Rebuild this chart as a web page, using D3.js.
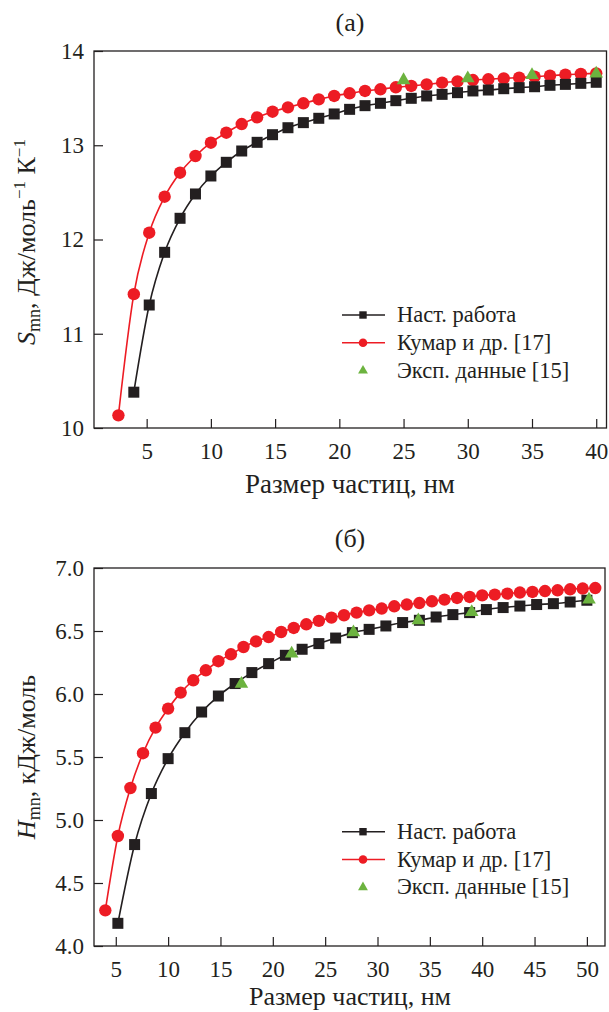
<!DOCTYPE html>
<html>
<head>
<meta charset="utf-8">
<script src="https://cdn.jsdelivr.net/npm/d3@7/dist/d3.min.js"></script>
<style>
  html, body { margin: 0; padding: 0; background: #fff; }
  svg { display: block; }
</style>
</head>
<body>
<svg id="chart" width="609" height="1012" font-family="Liberation Serif"></svg>
<script>
// ---------- Data: panel (a) entropy S_mn ----------
const sizeA_black = [4, 5.2, 6.4, 7.6, 8.8, 10, 11.2, 12.4, 13.6, 14.8, 16, 17.2, 18.4, 19.6, 20.8, 22, 23.2, 24.4, 25.6, 26.8, 28, 29.2, 30.4, 31.6, 32.8, 34, 35.2, 36.4, 37.6, 38.8, 40];
const sA_black = [10.38, 11.305, 11.864, 12.225, 12.483, 12.674, 12.819, 12.939, 13.031, 13.112, 13.186, 13.24, 13.286, 13.332, 13.381, 13.42, 13.445, 13.473, 13.498, 13.523, 13.54, 13.558, 13.576, 13.586, 13.6, 13.611, 13.621, 13.636, 13.646, 13.657, 13.668];
const sizeA_red = [2.8, 4, 5.2, 6.4, 7.6, 8.8, 10, 11.2, 12.4, 13.6, 14.8, 16, 17.2, 18.4, 19.6, 20.8, 22, 23.2, 24.4, 25.6, 26.8, 28, 29.2, 30.4, 31.6, 32.8, 34, 35.2, 36.4, 37.6, 38.8, 40];
const sA_red = [10.134, 11.42, 12.072, 12.454, 12.709, 12.886, 13.027, 13.133, 13.225, 13.296, 13.356, 13.402, 13.445, 13.487, 13.523, 13.551, 13.576, 13.594, 13.615, 13.629, 13.646, 13.664, 13.678, 13.692, 13.7, 13.71, 13.717, 13.727, 13.738, 13.749, 13.756, 13.763];
const sizeA_exp = [25, 30, 35, 40];
const sA_exp = [13.69, 13.71, 13.745, 13.76];
const ticksA_x = [5, 10, 15, 20, 25, 30, 35, 40];
const ticksA_y = [10, 11, 12, 13, 14];

// ---------- Data: panel (б) enthalpy H_mn ----------
const sizeB_black = [5.2, 6.8, 8.4, 10, 11.6, 13.2, 14.8, 16.4, 18, 19.6, 21.2, 22.8, 24.4, 26, 27.6, 29.2, 30.8, 32.4, 34, 35.6, 37.2, 38.8, 40.4, 42, 43.6, 45.2, 46.8, 48.4, 50];
const hB_black = [4.18, 4.805, 5.21, 5.487, 5.693, 5.857, 5.984, 6.083, 6.17, 6.241, 6.307, 6.355, 6.4, 6.444, 6.487, 6.513, 6.54, 6.567, 6.585, 6.611, 6.63, 6.646, 6.67, 6.686, 6.698, 6.71, 6.717, 6.73, 6.744];
const sizeB_red = [4, 5.2, 6.4, 7.6, 8.8, 10, 11.2, 12.4, 13.6, 14.8, 16, 17.2, 18.4, 19.6, 20.8, 22, 23.2, 24.4, 25.6, 26.8, 28, 29.2, 30.4, 31.6, 32.8, 34, 35.2, 36.4, 37.6, 38.8, 40, 41.2, 42.4, 43.6, 44.8, 46, 47.2, 48.4, 49.6, 50.8];
const hB_red = [4.283, 4.873, 5.254, 5.53, 5.733, 5.884, 6.011, 6.109, 6.188, 6.26, 6.315, 6.373, 6.418, 6.452, 6.492, 6.524, 6.553, 6.58, 6.606, 6.625, 6.646, 6.664, 6.678, 6.696, 6.71, 6.722, 6.736, 6.749, 6.762, 6.77, 6.783, 6.789, 6.797, 6.805, 6.81, 6.817, 6.823, 6.831, 6.837, 6.841];
const sizeB_exp = [17, 21.8, 27.7, 33.9, 39, 50.2];
const hB_exp = [6.08, 6.32, 6.49, 6.585, 6.65, 6.75];
const ticksB_x = [5, 10, 15, 20, 25, 30, 35, 40, 45, 50];
const ticksB_y = [4.0, 4.5, 5.0, 5.5, 6.0, 6.5, 7.0];

const legendLabels = ["Наст. работа", "Кумар и др. [17]", "Эксп. данные [15]"];
const COL_BLACK = "#231f20", COL_RED = "#ed1c24", COL_GREEN = "#6cb33f";
const FONT = "'Liberation Serif', 'Times New Roman', serif";

const svg = d3.select("#chart");

function styleText(sel, size) {
  return sel.style("font-family", FONT).style("font-size", size + "px").style("fill", COL_BLACK);
}

function panel(cfg) {
  const g = svg.append("g");
  const x = d3.scaleLinear().domain(cfg.xDomain).range([cfg.left, cfg.right]);
  const y = d3.scaleLinear().domain(cfg.yDomain).range([cfg.bottom, cfg.top]);

  // frame
  g.append("rect").attr("x", cfg.left).attr("y", cfg.top)
    .attr("width", cfg.right - cfg.left).attr("height", cfg.bottom - cfg.top)
    .attr("fill", "none").attr("stroke", COL_BLACK).attr("stroke-width", 1.3);

  // axes (inward ticks)
  const xAxis = d3.axisBottom(x).tickValues(cfg.xTicks).tickSizeInner(-9).tickSizeOuter(0).tickPadding(15)
    .tickFormat(d3.format("d"));
  const gx = g.append("g").attr("transform", `translate(0,${cfg.bottom})`).call(xAxis);
  gx.attr("font-family", null).attr("font-size", null);
  gx.select(".domain").remove();
  gx.selectAll("line").attr("stroke", COL_BLACK).attr("stroke-width", 1.2);
  styleText(gx.selectAll("text"), 23);

  const yAxis = d3.axisLeft(y).tickValues(cfg.yTicks).tickSizeInner(-9).tickSizeOuter(0).tickPadding(10)
    .tickFormat(cfg.yFormat);
  const gy = g.append("g").attr("transform", `translate(${cfg.left},0)`).call(yAxis);
  gy.attr("font-family", null).attr("font-size", null);
  gy.select(".domain").remove();
  gy.selectAll("line").attr("stroke", COL_BLACK).attr("stroke-width", 1.2);
  styleText(gy.selectAll("text"), 23);

  // lines
  const line = d3.line().x(d => x(d[0])).y(d => y(d[1])).curve(d3.curveMonotoneX);
  const black = d3.zip(cfg.bx, cfg.by);
  const red = d3.zip(cfg.rx, cfg.ry);
  const exp = d3.zip(cfg.ex, cfg.ey);

  g.append("path").datum(red).attr("d", line).attr("fill", "none").attr("stroke", COL_RED).attr("stroke-width", 1.6);
  g.append("path").datum(black).attr("d", line).attr("fill", "none").attr("stroke", COL_BLACK).attr("stroke-width", 1.6);

  g.selectAll(".rc").data(red).join("circle")
    .attr("cx", d => x(d[0])).attr("cy", d => y(d[1])).attr("r", 6.2).attr("fill", COL_RED);
  g.selectAll(".bs").data(black).join("rect")
    .attr("x", d => x(d[0]) - 5.5).attr("y", d => y(d[1]) - 5.5).attr("width", 11).attr("height", 11).attr("fill", COL_BLACK);
  const tri = d3.symbol().type(d3.symbolTriangle).size(80);
  g.selectAll(".gt").data(exp).join("path")
    .attr("d", tri).attr("transform", d => `translate(${x(d[0])},${y(d[1])})`).attr("fill", COL_GREEN);

  // legend
  const lg = g.append("g");
  const rows = [cfg.legY, cfg.legY + 27.8, cfg.legY + 55.6];
  lg.append("line").attr("x1", 342).attr("x2", 385).attr("y1", rows[0]).attr("y2", rows[0]).attr("stroke", COL_BLACK).attr("stroke-width", 1.6);
  lg.append("rect").attr("x", 363 - 3.7).attr("y", rows[0] - 3.7).attr("width", 7.4).attr("height", 7.4).attr("fill", COL_BLACK);
  lg.append("line").attr("x1", 342).attr("x2", 385).attr("y1", rows[1]).attr("y2", rows[1]).attr("stroke", COL_RED).attr("stroke-width", 1.6);
  lg.append("circle").attr("cx", 363).attr("cy", rows[1]).attr("r", 4.3).attr("fill", COL_RED);
  lg.append("path").attr("d", d3.symbol().type(d3.symbolTriangle).size(42)).attr("transform", `translate(363,${rows[2]})`).attr("fill", COL_GREEN);
  styleText(lg.selectAll("text").data(legendLabels).join("text")
    .attr("x", 397).attr("y", (d, i) => rows[i] + 7).text(d => d), 22.5);

  // titles
  styleText(g.append("text").attr("x", 350).attr("y", cfg.titleY).attr("text-anchor", "middle").text(cfg.title), 26);
  styleText(g.append("text").attr("x", 350).attr("y", cfg.xLabelY).attr("text-anchor", "middle").text("Размер частиц, нм"), cfg.xLabelSize);

  // y label
  const yl = styleText(g.append("text").attr("transform", `translate(${cfg.yLabelX},${cfg.yLabelMid}) rotate(-90)`)
    .attr("text-anchor", "middle"), 26);
  cfg.yLabel(yl);
  return g;
}

panel({
  left: 94, right: 606.5, top: 51, bottom: 428,
  xDomain: [0.9, 40.8], yDomain: [10, 14],
  xTicks: ticksA_x, yTicks: ticksA_y, yFormat: d3.format("d"),
  bx: sizeA_black, by: sA_black, rx: sizeA_red, ry: sA_red, ex: sizeA_exp, ey: sA_exp,
  legY: 315, title: "(a)", titleY: 31, xLabelY: 493, xLabelSize: 27, yLabelX: 35, yLabelMid: 242,
  yLabel: t => {
    t.append("tspan").style("font-style", "italic").text("S");
    t.append("tspan").style("font-size", "18px").attr("dy", 5).text("mn");
    t.append("tspan").attr("dy", -5).text(", Дж/моль");
    t.append("tspan").style("font-size", "17px").attr("dy", -10).text("−1");
    t.append("tspan").attr("dy", 10).text(" К");
    t.append("tspan").style("font-size", "17px").attr("dy", -10).text("−1");
  }
});

panel({
  left: 94, right: 605, top: 568, bottom: 946,
  xDomain: [2.92, 51.73], yDomain: [4, 7],
  xTicks: ticksB_x, yTicks: ticksB_y, yFormat: d3.format(".1f"),
  bx: sizeB_black, by: hB_black, rx: sizeB_red, ry: hB_red, ex: sizeB_exp, ey: hB_exp,
  legY: 831.7, title: "(б)", titleY: 547, xLabelY: 1005, xLabelSize: 26, yLabelX: 35, yLabelMid: 757,
  yLabel: t => {
    t.append("tspan").style("font-style", "italic").text("H");
    t.append("tspan").style("font-size", "18px").attr("dy", 5).text("mn");
    t.append("tspan").attr("dy", -5).text(", кДж/моль");
  }
});
</script>
</body>
</html>
